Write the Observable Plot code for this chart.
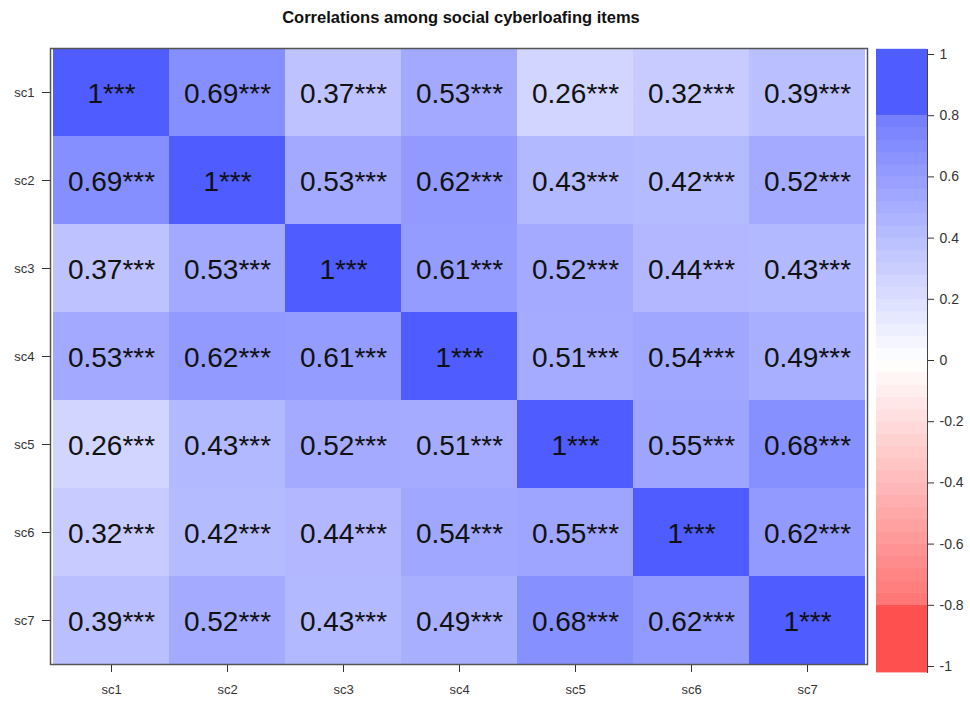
<!DOCTYPE html>
<html>
<head>
<meta charset="utf-8">
<script src="https://cdn.jsdelivr.net/npm/d3@7"></script>
<script src="https://cdn.jsdelivr.net/npm/@observablehq/plot@0.6"></script>
<style>
  body { margin: 0; background: #fff; font-family: "Liberation Sans", Arial, sans-serif; }
  #wrap { position: relative; width: 970px; height: 704px; overflow: hidden; }
  #title { position: absolute; top: 8px; left: 0; width: 922px; text-align: center;
           font-weight: bold; font-size: 16.5px; color: #111; }
  #heat { position: absolute; top: 40px; left: 0; }
  #legend { position: absolute; top: 40px; left: 870px; }
</style>
</head>
<body>
<div id="wrap">
  <div id="title">Correlations among social cyberloafing items</div>
  <div id="heat"></div>
  <div id="legend"></div>
</div>
<script>
const items = ["sc1", "sc2", "sc3", "sc4", "sc5", "sc6", "sc7"];
const corr = [
  [1, 0.69, 0.37, 0.53, 0.26, 0.32, 0.39],
  [0.69, 1, 0.53, 0.62, 0.43, 0.42, 0.52],
  [0.37, 0.53, 1, 0.61, 0.52, 0.44, 0.43],
  [0.53, 0.62, 0.61, 1, 0.51, 0.54, 0.49],
  [0.26, 0.43, 0.52, 0.51, 1, 0.55, 0.68],
  [0.32, 0.42, 0.44, 0.54, 0.55, 1, 0.62],
  [0.39, 0.52, 0.43, 0.49, 0.68, 0.62, 1]
];
const stars = [
  ["***","***","***","***","***","***","***"],
  ["***","***","***","***","***","***","***"],
  ["***","***","***","***","***","***","***"],
  ["***","***","***","***","***","***","***"],
  ["***","***","***","***","***","***","***"],
  ["***","***","***","***","***","***","***"],
  ["***","***","***","***","***","***","***"]
];
const legendTicks = [-1, -0.8, -0.6, -0.4, -0.2, 0, 0.2, 0.4, 0.6, 0.8, 1];

const colorDomain = [-1, 0, 1];
const colorRange = ["#FF5050", "#FFFFFF", "#4F5CFF"];

const data = [];
items.forEach((r, i) => items.forEach((c, j) => {
  data.push({row: r, col: c, value: corr[i][j], label: String(corr[i][j]) + stars[i][j]});
}));

const heat = Plot.plot({
  width: 870, height: 664,
  marginTop: 8, marginLeft: 50, marginRight: 3, marginBottom: 40,
  style: {fontFamily: "'Liberation Sans', Arial, sans-serif", fontSize: "13px", color: "#333"},
  x: {domain: items, padding: 0, label: null, tickSize: 8, tickPadding: 12},
  y: {domain: items, padding: 0, label: null, tickSize: 8, tickPadding: 8},
  color: {type: "linear", domain: colorDomain, range: colorRange, interpolate: "rgb"},
  marks: [
    Plot.cell(data, {x: "col", y: "row", fill: "value"}),
    Plot.text(data, {x: "col", y: "row", text: "label", fontSize: 28, fill: "#111", dy: 2,
      fontFamily: "'Liberation Sans', Arial, sans-serif"}),
    Plot.frame({stroke: "#555", strokeWidth: 1.5})
  ]
});
document.getElementById("heat").appendChild(heat);

// legend color bar (binned ramp, flat beyond |0.8|)
const scale = d3.scaleLinear().domain(colorDomain).range(colorRange).interpolate(d3.interpolateRgb);
const bins = [];
bins.push({lo: 0.8, hi: 1.016, color: scale(1)});
bins.push({lo: -1.02, hi: -0.8, color: scale(-1)});
for (let k = -20; k < 20; k++) {
  const lo = k * 0.04, hi = (k + 1) * 0.04;
  bins.push({lo, hi, color: scale((lo + hi) / 2)});
}

const legend = Plot.plot({
  width: 100, height: 664,
  marginTop: 14, marginBottom: 38, marginLeft: 6, marginRight: 43,
  style: {fontFamily: "'Liberation Sans', Arial, sans-serif", fontSize: "14px", color: "#333"},
  y: {domain: [-1, 1], label: null},
  marks: [
    Plot.rect(bins, {y1: "lo", y2: "hi", fill: "color", insetTop: -0.3, insetBottom: -0.3}),
    Plot.axisY(legendTicks, {anchor: "right", tickSize: 6, tickPadding: 6,
      tickFormat: d => String(+d.toFixed(1)), label: null}),
    Plot.frame({anchor: "right", stroke: "#444", insetTop: -5, insetBottom: -6})
  ]
});
document.getElementById("legend").appendChild(legend);
</script>
</body>
</html>
